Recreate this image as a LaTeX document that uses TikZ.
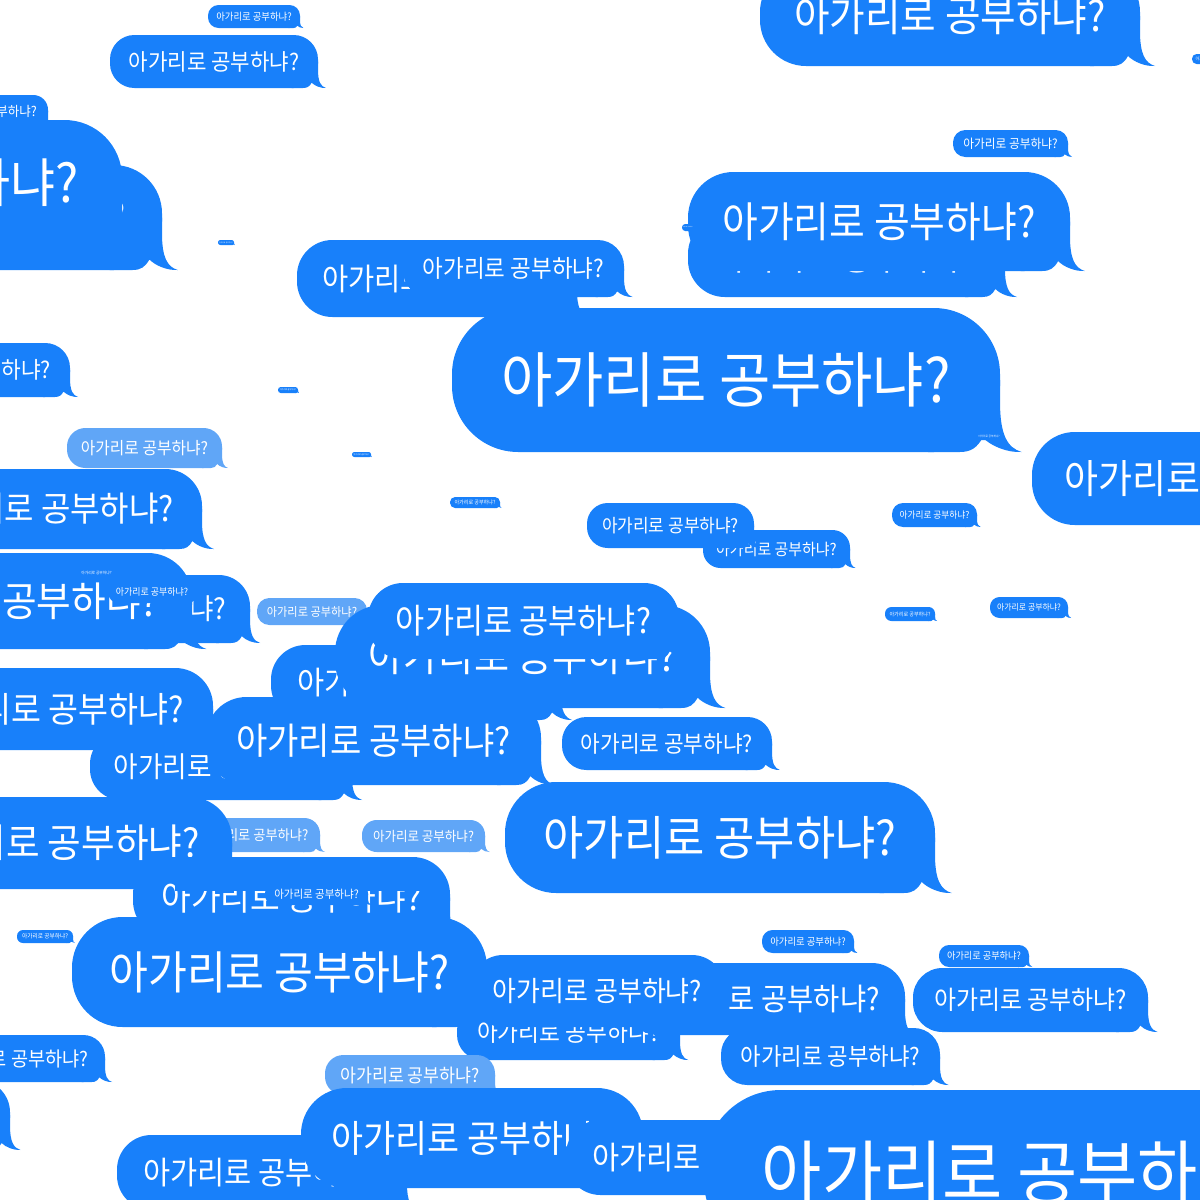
\documentclass[tikz,border=0pt]{standalone}
\usepackage{graphicx}
\usepackage{fontspec}
\setmainfont{Noto Sans CJK KR}
\definecolor{bblue}{RGB}{24,128,250}
\definecolor{lblue}{RGB}{96,166,247}
\tikzset{msg/.style={text=white, inner sep=0pt, outer sep=0pt, anchor=center}}
\newcommand\bub[6][bblue]{%
 \pgfmathsetmacro\bL{#3}\pgfmathsetmacro\bT{#4}\pgfmathsetmacro\bW{#5}\pgfmathsetmacro\bH{#6}%
 \pgfmathsetmacro\bR{\bL+\bW}\pgfmathsetmacro\bB{\bT+\bH}%
 \pgfmathsetmacro\bRad{0.46*\bH}%
 \fill[#1, rounded corners=\bRad pt] (\bL,\bT) rectangle (\bR,\bB);
 \fill[#1] (\bR-0.5*\bH,\bB-0.5*\bH) -- (\bR,\bB-0.5*\bH) -- (\bR,\bB-0.35*\bH)
   .. controls (\bR,\bB-0.12*\bH) and (\bR+0.05*\bH,\bB-0.03*\bH) .. (\bR+0.15*\bH,\bB)
   .. controls (\bR+0.05*\bH,\bB+0.005*\bH) and (\bR-0.06*\bH,\bB-0.04*\bH) .. (\bR-0.12*\bH,\bB-0.1*\bH)
   .. controls (\bR-0.16*\bH,\bB-0.03*\bH) and (\bR-0.2*\bH,\bB) .. (\bR-0.28*\bH,\bB)
   -- (\bR-0.5*\bH,\bB) -- cycle;
 \pgfmathsetmacro\bTW{0.82*\bW}%
 \node[msg] (#2) at (\bL+0.5*\bW,\bT+0.5*\bH) {\resizebox{\bTW pt}{!}{\scalebox{1}[1.08]{아가리로 공부하냐?}}};
}
\begin{document}
\begin{tikzpicture}[x=1pt,y=-1pt]
\useasboundingbox (0,0) rectangle (1200,1200);
\clip (0,0) rectangle (1200,1200);
\bub{b1}{208}{5}{92}{23}
\bub{b2}{110}{35}{208}{53}
\bub{b3}{760}{-34}{380}{100}
\bub{tr}{1192}{54}{40}{10}
\bub{bB}{-242}{165}{404}{105}
\bub{bA}{-359}{120}{481}{125}
\bub{b5}{-75}{95}{123}{32}
\bub{t7}{218}{240}{16}{5}
\bub{b8}{953}{130}{115}{27}
\bub{b9b}{688}{217}{317}{80}
\bub{b9}{688}{172}{382}{99}
\bub{tdot}{682}{224}{12}{7}
\bub{b10}{297}{240}{280}{77}
\bub{b11}{403}{240}{221}{57}
\bub{bc}{452}{308}{548}{144}
\bub{tc}{976}{433}{26}{7}
\bub{b12}{1032}{432}{363}{93}
\bub{b13}{-140}{343}{210}{54}
\bub{ta}{278}{387}{20}{6}
\bub{tb}{352}{452}{19}{5}
\bub{tcc}{450}{497}{50}{11}
\bub[lblue]{b15}{67}{428}{155}{40}
\bub{b16}{-112}{469}{314}{80}
\bub{b17b}{-12}{575}{262}{68}
\bub{b17a}{-178}{553}{370}{96}
\bub{b17c}{108}{580}{88}{23}
\bub{b17d}{78}{568}{37}{9}
\bub[lblue]{b18}{257}{598}{110}{27}
\bub{b21}{271}{645}{290}{75}
\bub{b20}{335}{605}{375}{103}
\bub{b19}{368}{583}{311}{76}
\bub{b24}{-107}{668}{320}{82}
\bub{b23}{90}{733}{262}{67}
\bub{b22}{206}{697}{335}{88}
\bub{b25}{562}{717}{210}{53}
\bub{b27}{703}{530}{147}{38}
\bub{b26}{587}{503}{167}{45}
\bub{b28}{892}{503}{85}{24}
\bub{b29}{885}{607}{50}{14}
\bub{b30}{990}{597}{78}{21}
\bub[lblue]{b33}{190}{818}{130}{34}
\bub{b32}{-127}{797}{359}{92}
\bub[lblue]{b52}{362}{820}{123}{32}
\bub{b34}{133}{857}{317}{81}
\fill[bblue] (175,865) rectangle (420,891);
\bub{b35}{265}{883}{103}{22}
\bub{b36}{72}{917}{415}{110}
\bub{tl}{17}{930}{56}{13}
\bub{b54}{505}{782}{430}{111}
\bub{b50}{762}{930}{92}{23}
\bub{b49}{939}{945}{90}{22}
\bub{b48}{913}{968}{235}{64}
\bub{b46}{457}{1005}{223}{55}
\bub{b45}{625}{963}{280}{72}
\bub{b44}{470}{955}{255}{72}
\bub{b47}{721}{1028}{219}{57}
\bub[lblue]{b40}{325}{1055}{170}{40}
\bub{b37}{-78}{1035}{183}{47}
\bub{b38}{-260}{1080}{270}{70}
\bub{b39}{117}{1135}{290}{75}
\bub{b41}{301}{1088}{342}{100}
\bub{b42}{566}{1120}{290}{75}
\bub{b43}{704}{1090}{643}{167}
\end{tikzpicture}
\end{document}
